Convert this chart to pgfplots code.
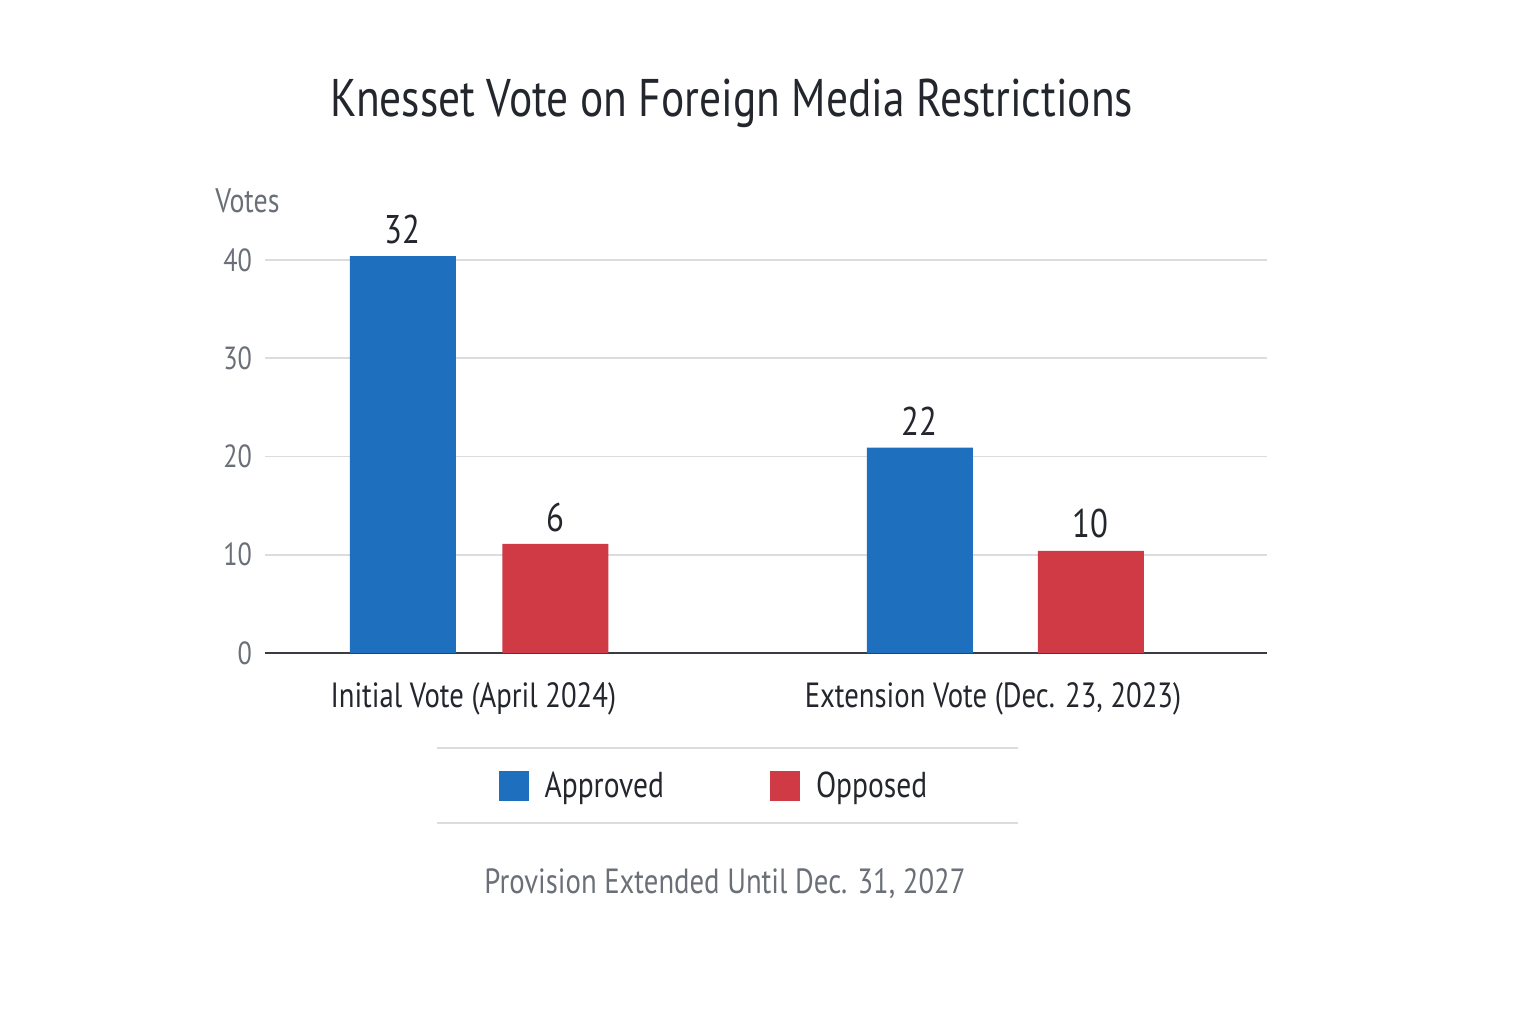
\documentclass[border=0pt]{standalone}
\usepackage{fontspec}
\setmainfont[FakeStretch=0.82]{PT Sans}
\usepackage{pgfplots}
\pgfplotsset{compat=1.18}

\definecolor{approved}{HTML}{1F6FBF}
\definecolor{opposed}{HTML}{D03A44}
\definecolor{ink}{HTML}{23272D}
\definecolor{muted}{HTML}{6B7078}
\definecolor{gridc}{HTML}{DADDE0}

\begin{document}
\begin{tikzpicture}
% page frame, 1 px of the reference = 0.5pt
\path (-132.5pt,-185.5pt) rectangle (635.5pt,326.5pt);

\begin{axis}[
    at={(0,0)}, anchor=south west,
    scale only axis,
    width=501pt, height=206.3pt,
    xmin=-0.407, xmax=1.498,
    ymin=0, ymax=42,
    axis lines*=left,
    y axis line style={draw=none},
    x axis line style={draw=ink!90, line width=1pt},
    major tick length=0pt,
    ytick={0,10,20,30,40},
    ymajorgrids,
    grid style={gridc, line width=0.8pt},
    xtick={-0.011,0.977},
    xticklabels={{Initial Vote (April 2024)}, {Extension Vote (Dec. 23, 2023)}},
    xticklabel style={font=\fontsize{17.5}{20}\selectfont, text=ink, yshift=-11.5pt},
    yticklabel style={font=\fontsize{16}{18}\selectfont, text=muted, xshift=-3pt},
    /pgf/number format/assume math mode=true,
    ybar, bar shift=0pt, bar width=53pt,
    point meta=explicit symbolic,
    nodes near coords,
    every node near coord/.append style={font=\fontsize{20}{22}\selectfont, text=ink, inner sep=0pt, yshift=6pt},
    legend columns=2,
    legend style={at={(0.449,-0.322)}, anchor=center, draw=none, fill=none,
        font=\fontsize{18}{20}\selectfont, text=ink,
        /tikz/every even column/.append style={column sep=51pt},
        /tikz/every odd column/.append style={column sep=6pt}},
    legend image code/.code={\fill[#1] (0pt,-7.5pt) rectangle (15pt,7.5pt);},
    clip=false,
]
\addplot[draw=none, fill=approved] coordinates {(-0.145,40.4) [32] (0.838,20.9) [22]};
\addplot[draw=none, fill=opposed] coordinates {(0.145,11.1) [6] (1.163,10.4) [10]};
\legend{Approved, Opposed}
\node[anchor=base west, font=\fontsize{17}{19}\selectfont, text=muted, inner sep=0pt]
    at (axis description cs:-0.05,1.0687) {Votes};
\end{axis}

\node[anchor=base, font=\fontsize{26.5}{30}\selectfont, text=ink, inner sep=0pt]
    at (233.5pt,268pt) {Knesset Vote on Foreign Media Restrictions};
\draw[gridc, line width=0.8pt] (86pt,-47.5pt) -- (376.5pt,-47.5pt);
\draw[gridc, line width=0.8pt] (86pt,-85pt) -- (376.5pt,-85pt);
\node[anchor=base, font=\fontsize{17.5}{20}\selectfont, text=muted, inner sep=0pt]
    at (230pt,-120pt) {Provision Extended Until Dec. 31, 2027};
\end{tikzpicture}
\end{document}
